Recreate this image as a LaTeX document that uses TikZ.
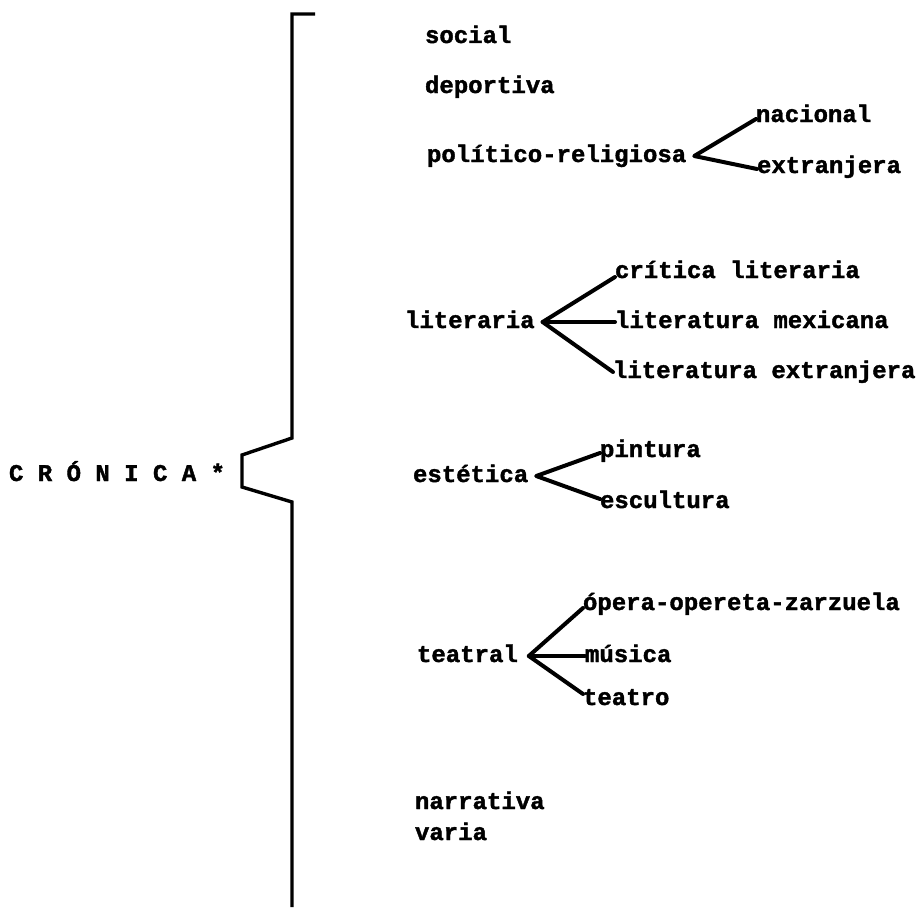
\documentclass[tikz,border=0pt]{standalone}
\usepackage{fontspec}
\setmainfont{Liberation Mono}[BoldFeatures={FakeBold=1.6}]
\begin{document}
\begin{tikzpicture}[x=1pt,y=-1pt,
  lbl/.style={anchor=west,inner sep=0pt,outer sep=0pt,text height=12pt,text depth=0pt,
    font=\fontsize{24}{28}\selectfont\bfseries},
  brace/.style={line width=3.4pt,line cap=butt,line join=miter},
  branch/.style={line width=4pt,line cap=round,line join=round}]
\useasboundingbox (0,0) rectangle (917,907);
% main bracket
\draw[brace] (315,14) -- (292,14) -- (292,438) -- (242,455) -- (242,487) -- (292,502) -- (292,907);
% root
\node[lbl] (root) at (9,475) {C R Ó N I C A *};
% first level
\node[lbl] (social) at (425,37) {social};
\node[lbl] (deport) at (425,87) {deportiva};
\node[lbl] (polrel) at (427,156) {político-religiosa};
\node[lbl] (lit) at (405,322) {literaria};
\node[lbl] (est) at (413,476) {estética};
\node[lbl] (tea) at (417,656) {teatral};
\node[lbl] (narr) at (415,803) {narrativa};
\node[lbl] (varia) at (415,834) {varia};
% second level
\node[lbl] (nac) at (756,116) {nacional};
\node[lbl] (ext) at (757,167) {extranjera};
\node[lbl] (crit) at (615,272) {crítica literaria};
\node[lbl] (litmex) at (615,322) {literatura mexicana};
\node[lbl] (litext) at (613,372) {literatura extranjera};
\node[lbl] (pint) at (600,451) {pintura};
\node[lbl] (escu) at (600,502) {escultura};
\node[lbl] (opera) at (583,604) {ópera-opereta-zarzuela};
\node[lbl] (mus) at (585,656) {música};
\node[lbl] (teatro) at (583,699) {teatro};
% vertices
\coordinate (vpol) at ([xshift=8pt]polrel.east);
\coordinate (vlit) at ([xshift=8pt]lit.east);
\coordinate (vest) at ([xshift=8pt]est.east);
\coordinate (vtea) at ([xshift=11pt]tea.east);
% branches
\draw[branch] ([yshift=-3pt]nac.west) -- (vpol) -- ([yshift=-2pt]ext.west);
\draw[branch] ([yshift=-5pt]crit.west) -- (vlit) -- (litext.west);
\draw[branch] (vlit) -- (litmex.west);
\draw[branch] ([yshift=-2pt]pint.west) -- (vest) -- ([yshift=3pt]escu.west);
\draw[branch] ([yshift=-4pt]opera.west) -- (vtea) -- ([yshift=5pt]teatro.west);
\draw[branch] (vtea) -- (mus.west);
\end{tikzpicture}
\end{document}
